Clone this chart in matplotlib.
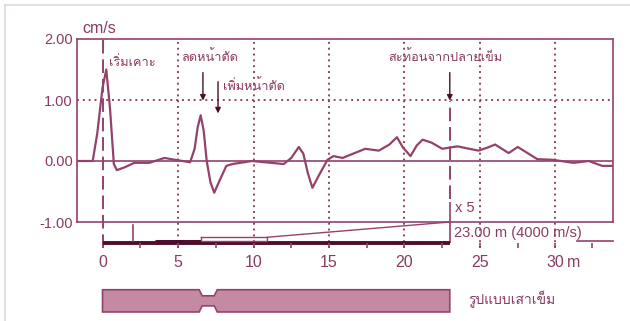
import matplotlib
matplotlib.use("Agg")
import matplotlib.font_manager as fm
from matplotlib.ft2font import FT2Font
from matplotlib import pyplot as plt
from matplotlib.patches import Polygon

# velocity trace (cm/s) against depth along the pile (m)
dist_m = [-1.7, -0.65, -0.35, 0.0, 0.25, 0.5, 0.75, 0.95, 1.5, 2.1,
          3.1, 4.1, 4.8, 5.8, 6.1, 6.3, 6.5, 6.7, 6.9, 7.15,
          7.4, 7.7, 8.2, 8.6, 9.9, 12.0, 12.5, 13.0, 13.3, 13.6,
          13.9, 14.3, 14.9, 15.3, 15.9, 16.7, 17.4, 18.3, 19.0, 19.5,
          19.9, 20.4, 20.8, 21.2, 21.8, 22.5, 23.5, 24.9, 25.5, 26.0,
          26.9, 27.5, 28.8, 29.8, 31.2, 32.2, 33.1, 33.8]
velocity = [0.0, 0.0, 0.45, 1.2, 1.5, 0.85, -0.05, -0.15, -0.1, -0.03,
            -0.03, 0.05, 0.02, -0.02, 0.2, 0.55, 0.75, 0.5, 0.0, -0.35,
            -0.52, -0.35, -0.08, -0.05, 0.0, -0.05, 0.05, 0.23, 0.12, -0.2,
            -0.44, -0.25, 0.02, 0.08, 0.05, 0.13, 0.2, 0.17, 0.27, 0.39,
            0.22, 0.08, 0.25, 0.35, 0.3, 0.2, 0.24, 0.17, 0.22, 0.27,
            0.13, 0.23, 0.03, 0.02, -0.03, 0.0, -0.08, -0.08]

y_ticks = [2.0, 1.0, 0.0, -1.0]
y_tick_labels = ["2.00", "1.00", "0.00", "-1.00"]
x_ticks = [0, 5, 10, 15, 20, 25, 30]
x_minor = [2.5, 7.5, 12.5, 17.5, 22.5, 27.5, 32.4]

pile_length = 23.0
neck_start, neck_end = 6.4, 7.6
amplification = "x 5"
length_label = "23.00 m (4000 m/s)"

labels = ["เริ่มเคาะ", "ลดหน้าตัด", "เพิ่มหน้าตัด", "สะท้อนจากปลายเข็ม"]
label_xy = [(0.45, 1.62), (5.2, 1.7), (7.95, 1.23), (18.9, 1.7)]
arrow_x = [6.65, 7.65, 23.0]
arrow_top = [1.45, 1.3, 1.45]
arrow_tip = [0.99, 0.78, 0.99]
pile_label = "รูปแบบเสาเข็ม"

col = "#94426c"
txt = "#8a3a62"
dark = "#4e0d2c"


def find_thai_font():
    for entry in fm.fontManager.ttflist:
        try:
            if 0x0E01 in FT2Font(entry.fname).get_charmap():
                return entry.name
        except Exception:
            pass
    return None


thai = find_thai_font()
thai_fam = [f for f in [thai, "DejaVu Sans"] if f]
num_fam = ["Liberation Sans Narrow", "Liberation Sans", "DejaVu Sans"]

fig = plt.figure(figsize=(6.3, 3.21), dpi=100)
ax = fig.add_axes([77 / 630, 1 - 222 / 321, 536 / 630, 183 / 321])
ax.set_xlim(-1.69, 33.81)
ax.set_ylim(-1.0, 2.0)

for s in ax.spines.values():
    s.set_color(col)
    s.set_linewidth(1.2)

ax.set_xticks([])
ax.set_yticks(y_ticks)
ax.set_yticklabels(y_tick_labels, family=num_fam, fontsize=10.5, color=txt)
ax.tick_params(axis="y", length=0, pad=3)

# grid
ax.vlines(x_ticks[1:], -1.43, 2.0, colors=col, linestyles=(0, (1, 2)), lw=1.4, clip_on=False)
ax.axhline(1.0, color=col, ls=(0, (1, 2)), lw=1.4)
ax.axhline(0.0, color=col, lw=1.2)

# trace
ax.plot(dist_m, velocity, color=col, lw=1.6, zorder=3)

# markers at pile head and toe
ax.vlines(0, -1.43, 2.0, colors=col, linestyles=(0, (7, 3)), lw=1.4, clip_on=False)
ax.vlines(pile_length, -0.62, 0.98, colors=col, linestyles=(0, (7, 3)), lw=1.4)
ax.vlines(pile_length, -1.344, -0.67, colors=col, lw=1.2, clip_on=False)

# annotations
for (tx, ty), s in zip(label_xy, labels):
    ax.text(tx, ty, s, family=thai_fam, fontsize=9.2, color=txt, ha="left", va="center")
for x0, y0, y1 in zip(arrow_x, arrow_top, arrow_tip):
    ax.annotate("", xy=(x0, y1), xytext=(x0, y0),
                arrowprops=dict(arrowstyle="-|>", color=dark, lw=1.0, mutation_scale=8,
                                shrinkA=0, shrinkB=0))

ax.text(-1.35, 2.05, "cm/s", family=num_fam, fontsize=11.5, color=txt, ha="left", va="bottom")

# lower scale
ax.plot([0, pile_length], [-1.344, -1.344], color=dark, lw=2.8, clip_on=False, solid_capstyle="butt")
ax.plot([3.5, 6.5], [-1.315, -1.315], color=dark, lw=2.2, clip_on=False, solid_capstyle="butt")
ax.plot([6.5, 10.9, 10.9, 6.5, 6.5], [-1.25, -1.25, -1.31, -1.31, -1.25], color=col, lw=1.0, clip_on=False)
ax.plot([10.9, pile_length], [-1.25, -1.0], color=col, lw=1.0, clip_on=False)
ax.plot([2.0, 2.0], [-1.05, -1.31], color=col, lw=1.2, clip_on=False)
ax.plot([31.4, 33.8], [-1.31, -1.31], color=col, lw=1.2, clip_on=False)
ax.vlines(x_minor, -1.344, -1.43, colors=col, lw=1.2, clip_on=False)
ax.vlines(x_ticks[1:], -1.344, -1.43, colors=col, lw=1.2, clip_on=False)
for xt in x_ticks:
    ax.text(xt, -1.66, str(xt), family=num_fam, fontsize=11.5, color=txt, ha="center", va="center")
ax.text(31.2, -1.66, "m", family=num_fam, fontsize=11.5, color=txt, ha="center", va="center")
ax.text(23.35, -0.77, amplification, family=num_fam, fontsize=10.5, color=txt, ha="left", va="center")
ax.text(23.3, -1.18, length_label, family=num_fam, fontsize=10.5, color=txt, ha="left", va="center")

# pile outline
top, bot = -2.11, -2.475
ntop, nbot = -2.21, -2.375
pile = Polygon([(0, top), (neck_start, top), (neck_start + 0.2, ntop), (neck_end - 0.2, ntop),
                (neck_end, top), (pile_length, top), (pile_length, bot), (neck_end, bot),
                (neck_end - 0.2, nbot), (neck_start + 0.2, nbot), (neck_start, bot), (0, bot)],
               closed=True, facecolor="#c48aa3", edgecolor="#94426c", lw=1.2, clip_on=False)
ax.add_patch(pile)
ax.text(24.2, -2.26, pile_label, family=thai_fam, fontsize=10, color=txt, ha="left", va="center")

# outer frame
fig.add_artist(plt.Line2D([5 / 630, 5 / 630], [0.0, 1 - 5 / 321], color="#ead2de", lw=1.2))
fig.add_artist(plt.Line2D([5 / 630, 1.0], [1 - 5 / 321, 1 - 5 / 321], color="#ead2de", lw=1.2))

fig.savefig("out.png", dpi=100, facecolor="white")
